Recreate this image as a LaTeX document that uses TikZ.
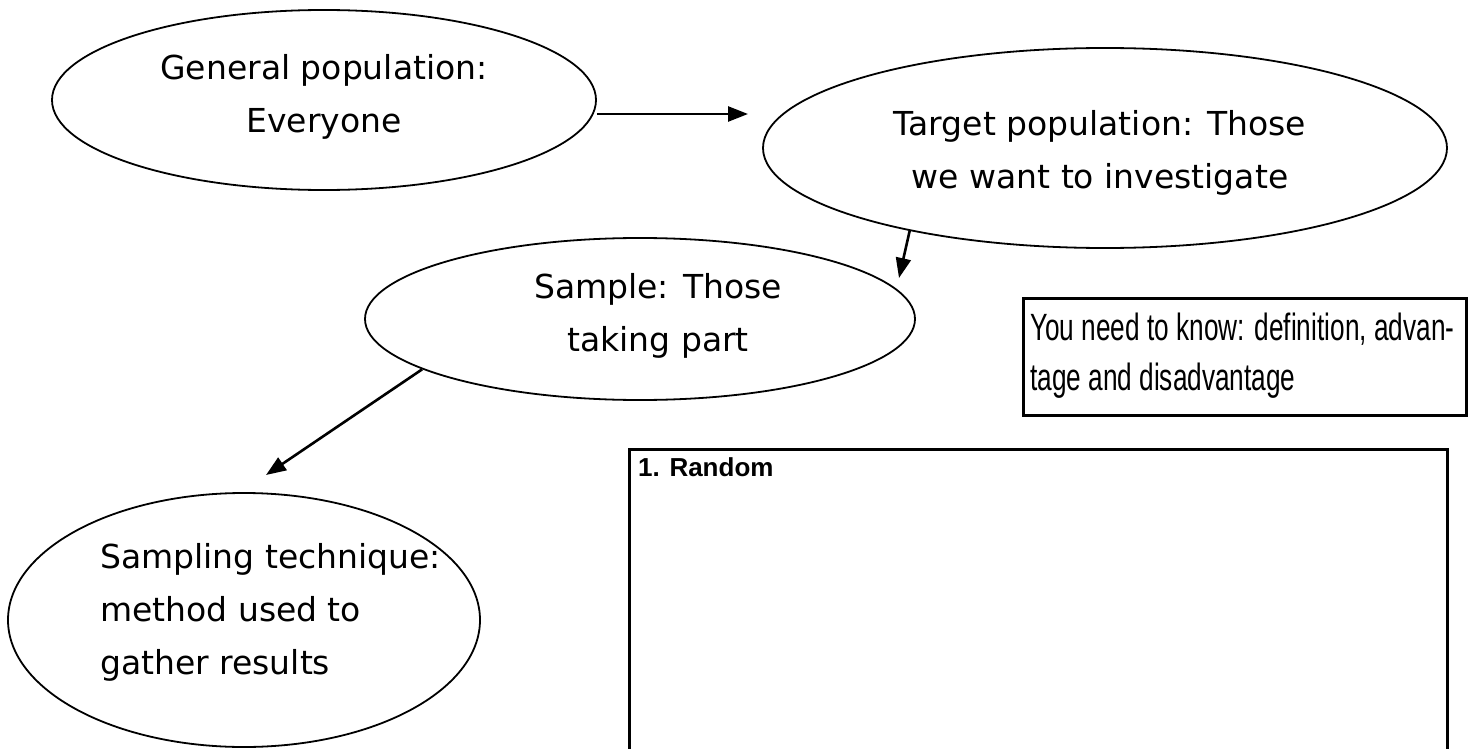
\documentclass[tikz,border=0pt]{standalone}
\usepackage{fontspec}
\setmainfont{DejaVu Sans}
\newfontfamily\agency[FakeStretch=0.69]{Liberation Sans}
\newfontfamily\arialfont{Liberation Sans}
\usetikzlibrary{shapes.geometric,arrows.meta}
\begin{document}
\begin{tikzpicture}[x=1pt,y=-1pt,
  ell/.style={draw, ellipse, line width=1.8pt, inner sep=0pt},
  conn/.style={line width=2.6pt, -{Triangle[length=20pt,width=15pt]}},
  lbl/.style={font=\fontsize{33}{53}\selectfont, inner sep=0pt},
  box/.style={draw, line width=3pt, inner sep=0pt}]
\useasboundingbox (0,0) rectangle (1470,749);

% ellipses
\node[ell, minimum width=544pt, minimum height=180pt] (gen) at (324,100) {};
\node[ell, minimum width=684pt, minimum height=200pt] (tgt) at (1105,148) {};
\node[ell, minimum width=550pt, minimum height=162pt] (samp) at (640,319) {};
\node[ell, minimum width=472pt, minimum height=254pt] (tech) at (244,620) {};

% ellipse texts
\node[lbl, align=center] (gent) at (324,97) {General population:\\Everyone};
\node[lbl, align=center] (tgtt) at (1100,153) {Target population: Those\\we want to investigate};
\node[lbl, align=center] (sampt) at (658,316) {Sample: Those\\taking part};
\node[lbl, align=left, anchor=west] (techt) at (100,612) {Sampling technique:\\method used to\\gather results};

% boxes
\node[box, anchor=north west, minimum width=443pt, minimum height=117pt] (know) at (1022,297) {};
\node[anchor=west, align=left, inner sep=0pt, font=\agency\fontsize{38}{50}\selectfont] (knowt) at (1030,356) {You need to know: definition, advan-\\tage and disadvantage};
\node[box, anchor=north west, minimum width=818pt, minimum height=340pt] (rand) at (628,448) {};
\node[anchor=base west, inner sep=0pt, font=\arialfont\bfseries\fontsize{26}{30}\selectfont] (randt) at (638,476) {1. Random};

% connectors
\coordinate (a1e) at (748,114);
\coordinate (a2e) at (899,278);
\coordinate (a3e) at (266,475);
\draw[conn] ([yshift=-14pt]gen.east) -- (a1e);
\draw[conn] (tgt.203.6) -- (a2e);
\draw[conn] (samp.193.3) -- (a3e);
\end{tikzpicture}
\end{document}
